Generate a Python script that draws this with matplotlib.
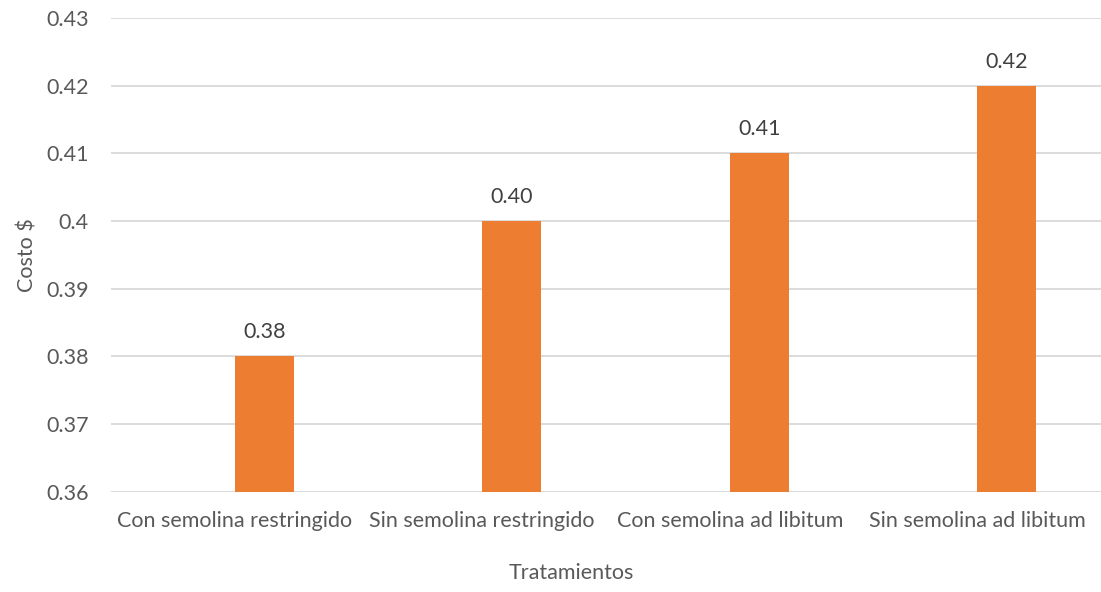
import numpy as np
import matplotlib.pyplot as plt

# Costo por tratamiento
tratamientos = ["Con semolina restringido", "Sin semolina restringido",
                "Con semolina ad libitum", "Sin semolina ad libitum"]
costo = [0.38, 0.40, 0.41, 0.42]
yticks = [0.36, 0.37, 0.38, 0.39, 0.4, 0.41, 0.42, 0.43]
ytick_labels = ["0.36", "0.37", "0.38", "0.39", "0.4", "0.41", "0.42", "0.43"]

plt.rcParams['font.family'] = ['Lato', 'DejaVu Sans']
fs = 15.5

fig = plt.figure(figsize=(11.01, 5.92), dpi=100)
ax = fig.add_axes([0.1008, 0.1694, 0.8992, 0.8002])

x = np.arange(len(tratamientos))
# bars sit to the right of the category centre (second slot of a two-series cluster)
bars = ax.bar(x, costo, width=0.238, align='edge', color='#ED7D31', zorder=3)

for xi, v in zip(x, costo):
    ax.annotate("%.2f" % v, (xi + 0.119, v), xytext=(0, 10), textcoords='offset points',
                ha='center', va='bottom', fontsize=fs, color='#404040')

ax.set_ylim(0.36, 0.43)
ax.set_xlim(-0.5, 3.5)
ax.set_yticks(yticks)
ax.set_yticklabels(ytick_labels)
ax.set_xticks(x)
ax.set_xticklabels(tratamientos)
ax.grid(axis='y', color='#D9D9D9', linewidth=1.3, zorder=0)
ax.tick_params(axis='both', length=0, labelsize=fs, labelcolor='#595959')
ax.tick_params(axis='y', pad=16)
ax.tick_params(axis='x', pad=14)
for s in ax.spines.values():
    s.set_visible(False)

ax.set_ylabel("Costo $", fontsize=fs, color='#595959')
ax.yaxis.set_label_coords(-0.0845, 0.5)
ax.set_xlabel("Tratamientos", fontsize=fs, color='#595959')
ax.xaxis.set_label_coords(0.465, -0.172)
ax.xaxis.label.set_va('center')
ax.yaxis.label.set_va('center')

fig.savefig("out.png", dpi=100)
